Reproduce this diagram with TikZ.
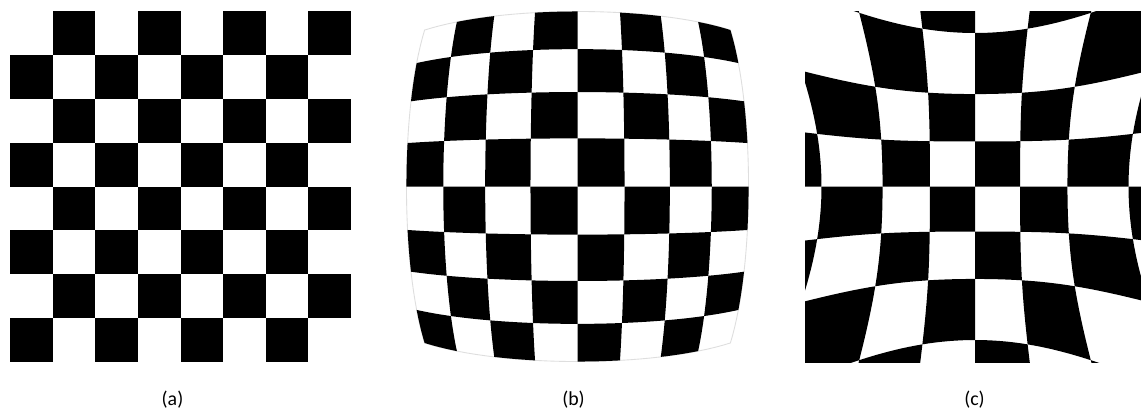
\documentclass[tikz,border=0pt]{standalone}
\usepackage{fontspec}
\setmainfont{Carlito}
\newcommand\dcell[3]{%
  \fill ({#1x(#2,#3)},{#1y(#2,#3)})
    \foreach \k in {1,...,8}{ -- ({#1x(#2+\k/8,#3)},{#1y(#2+\k/8,#3)}) }
    \foreach \k in {1,...,8}{ -- ({#1x(#2+1,#3+\k/8)},{#1y(#2+1,#3+\k/8)}) }
    \foreach \k in {1,...,8}{ -- ({#1x(#2+1-\k/8,#3+1)},{#1y(#2+1-\k/8,#3+1)}) }
    \foreach \k in {1,...,7}{ -- ({#1x(#2,#3+1-\k/8)},{#1y(#2,#3+1-\k/8)}) }
    -- cycle;}
\begin{document}
\begin{tikzpicture}[x=0.02cm,y=-0.02cm,
  declare function={
    barg(\x,\y)=1-0.006*((\x)*(\x)+(\y)*(\y));
    barx(\x,\y)=577.5+47.3*(\x)*barg(\x,\y);
    bary(\x,\y)=186.5+48.4*(\y)*barg(\x,\y);
    ping(\x,\y)=1+0.0017*((\x)*(\x)+(\y)*(\y))*((\x)*(\x)+(\y)*(\y));
    pinx(\x,\y)=975+45*(\x)*ping(\x,\y);
    piny(\x,\y)=186.5+45*(\y)*ping(\x,\y);
  },
  lbl/.style={font=\fontsize{11.3pt}{13pt}\selectfont, anchor=base, inner sep=0pt},
  rim/.style={draw=black!13, line width=0.5pt}]
\useasboundingbox (0,0) rectangle (1141,410);
\fill[white] (0,0) rectangle (1141,410);

% (a) regular board
\foreach \r in {0,...,7}{
  \foreach \c in {0,...,7}{
    \pgfmathtruncatemacro\odd{mod(\r+\c,2)}
    \ifnum\odd=1
      \fill (10+42.625*\c, 11+43.875*\r) rectangle ++(42.625,43.875);
    \fi
  }}

% (b) barrel distortion: faint rim then black cells
\draw[rim] ({barx(-4,-4)},{bary(-4,-4)})
  \foreach \k in {1,...,32}{ -- ({barx(-4+\k/4,-4)},{bary(-4+\k/4,-4)}) }
  \foreach \k in {1,...,32}{ -- ({barx(4,-4+\k/4)},{bary(4,-4+\k/4)}) }
  \foreach \k in {1,...,32}{ -- ({barx(4-\k/4,4)},{bary(4-\k/4,4)}) }
  \foreach \k in {1,...,31}{ -- ({barx(-4,4-\k/4)},{bary(-4,4-\k/4)}) }
  -- cycle;
\foreach \r in {0,...,7}{
  \foreach \c in {0,...,7}{
    \pgfmathtruncatemacro\odd{mod(\r+\c,2)}
    \ifnum\odd=1
      \dcell{bar}{\c-4}{\r-4}
    \fi
  }}

% (c) pincushion distortion, clipped
\begin{scope}
  \clip (805,11) rectangle (1141,362);
  \foreach \r in {0,...,7}{
    \foreach \c in {0,...,7}{
      \pgfmathtruncatemacro\odd{mod(\r+\c,2)}
      \ifnum\odd=1
        \dcell{pin}{\c-4}{\r-4}
      \fi
    }}
\end{scope}

% captions
\node[lbl] (capa) at (172.5,405.5) {(a)};
\node[lbl] (capb) at (573.5,405.5) {(b)};
\node[lbl] (capc) at (974.5,405.5) {(c)};
\end{tikzpicture}
\end{document}
